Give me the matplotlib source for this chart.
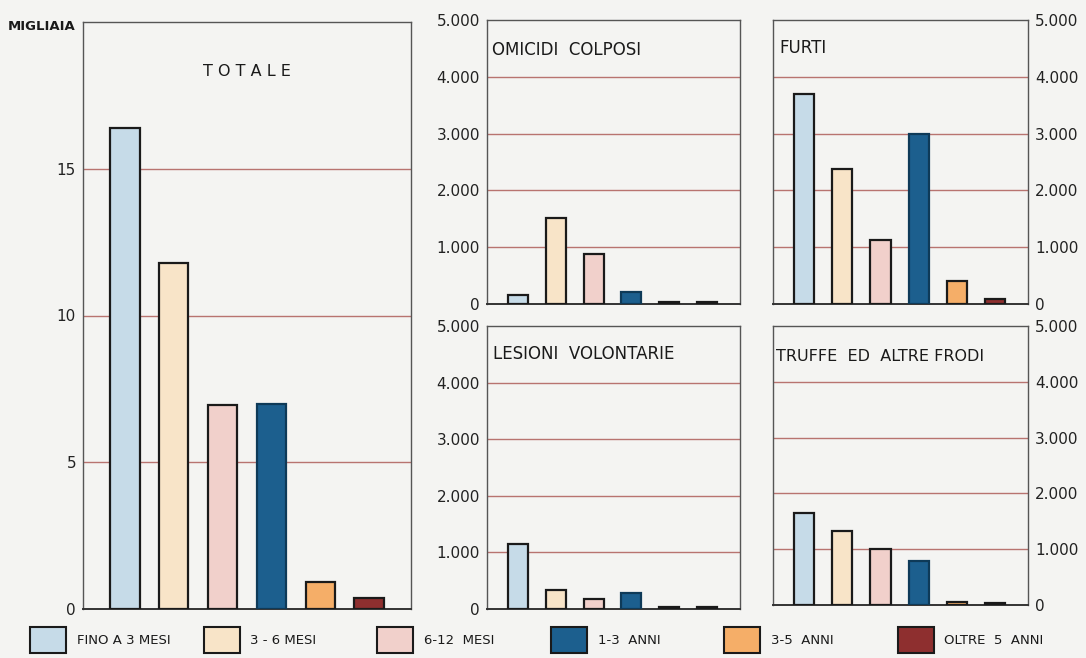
import numpy as np
import matplotlib
matplotlib.use("Agg")
import matplotlib.pyplot as plt
from matplotlib.patches import Rectangle

# categorie di durata e colori
durate = ["FINO A 3 MESI", "3 - 6 MESI", "6-12  MESI", "1-3  ANNI", "3-5  ANNI", "OLTRE  5  ANNI"]
colori = ["#c6dbe8", "#f8e4c8", "#f1d0cb", "#1c5f8e", "#f5ae68", "#8e2f2f"]

# valori (migliaia per il totale, unita' per i reati)
totale = [16.4, 11.8, 6.95, 7.0, 0.92, 0.37]
omicidi_colposi = [150, 1520, 880, 210, 35, 30]
furti = [3690, 2370, 1130, 3000, 400, 90]
lesioni_volontarie = [1140, 340, 180, 290, 40, 30]
truffe_frodi = [1640, 1320, 1000, 780, 55, 40]

W, H = 1086, 658
bg = "#f4f4f2"
griglia = "#b87470"
bordo = "#555555"

plt.rcParams['font.family'] = ['DejaVu Sans']
fig = plt.figure(figsize=(W / 100, H / 100), dpi=100, facecolor=bg)


def box(x0, y0, x1, y1):
    # rettangolo in pixel -> coordinate figura
    return [x0 / W, 1 - y1 / H, (x1 - x0) / W, (y1 - y0) / H]


def fmt(v):
    return f"{int(v):,}".replace(",", ".")


def pannello(rect, valori, titolo, xlim, larghezza, lato, ymax, passo, tick_vis, titolo_pos, titolo_size=12):
    ax = fig.add_axes(rect)
    ax.set_facecolor(bg)
    x = np.arange(len(valori))
    # linee di griglia
    for y in np.arange(passo, ymax, passo):
        ax.axhline(y, color=griglia, lw=1.0, zorder=1)
    for i, v in enumerate(valori):
        ec = "#0e3a58" if i == 3 else "#1a1a1a"
        ax.bar(x[i], v, width=larghezza, color=colori[i], edgecolor=ec, linewidth=1.6, zorder=3)
    ax.set_xlim(*xlim)
    ax.set_ylim(0, ymax)
    ax.set_xticks([])
    ax.set_yticks(tick_vis)
    ax.set_yticklabels([fmt(t) for t in tick_vis])
    ax.tick_params(axis="y", length=0, labelsize=11, pad=5, colors="#222222")
    if lato == "right":
        ax.yaxis.tick_right()
    for s in ax.spines.values():
        s.set_color(bordo)
        s.set_linewidth(1.0)
    ax.spines["bottom"].set_color("#333333")
    ax.spines["bottom"].set_linewidth(1.4)
    ax.text(titolo_pos[0], titolo_pos[1], titolo, transform=ax.transAxes, fontsize=titolo_size,
            ha=titolo_pos[2], va="center", color="#1a1a1a")
    return ax


# pannello totale
pannello(box(83, 22, 411, 609), totale, "T O T A L E", (-0.85, 5.85), 0.61, "left",
         20, 5, [0, 5, 10, 15], (0.5, 0.915, "center"), 11.5)
fig.text(8 / W, 1 - 26 / H, "MIGLIAIA", fontsize=9.5, fontweight="bold", ha="left", va="center",
         color="#1a1a1a")

xl = (-0.82, 5.87)
pannello(box(487, 20, 740, 304), omicidi_colposi, "OMICIDI  COLPOSI", xl, 0.53, "left",
         5000, 1000, [0, 1000, 2000, 3000, 4000, 5000], (0.02, 0.895, "left"))
pannello(box(773, 20, 1028, 304), furti, "FURTI", xl, 0.53, "right",
         5000, 1000, [0, 1000, 2000, 3000, 4000, 5000], (0.025, 0.9, "left"))
pannello(box(487, 326, 740, 609), lesioni_volontarie, "LESIONI  VOLONTARIE", xl, 0.53, "left",
         5000, 1000, [0, 1000, 2000, 3000, 4000, 5000], (0.025, 0.9, "left"))
pannello(box(773, 326, 1028, 605), truffe_frodi, "TRUFFE  ED  ALTRE FRODI", xl, 0.53, "right",
         5000, 1000, [0, 1000, 2000, 3000, 4000, 5000], (0.01, 0.89, "left"), 11.5)

# legenda in basso
for i, (nome, c) in enumerate(zip(durate, colori)):
    x0 = 30 + i * 173.5
    fig.patches.append(Rectangle((x0 / W, 1 - 653 / H), 36 / W, 26 / H, transform=fig.transFigure,
                                 facecolor=c, edgecolor="#1a1a1a", linewidth=1.5))
    fig.text((x0 + 47) / W, 1 - 641 / H, nome, fontsize=9.5, ha="left", va="center", color="#1a1a1a")

fig.savefig("out.png", dpi=100, facecolor=bg)
